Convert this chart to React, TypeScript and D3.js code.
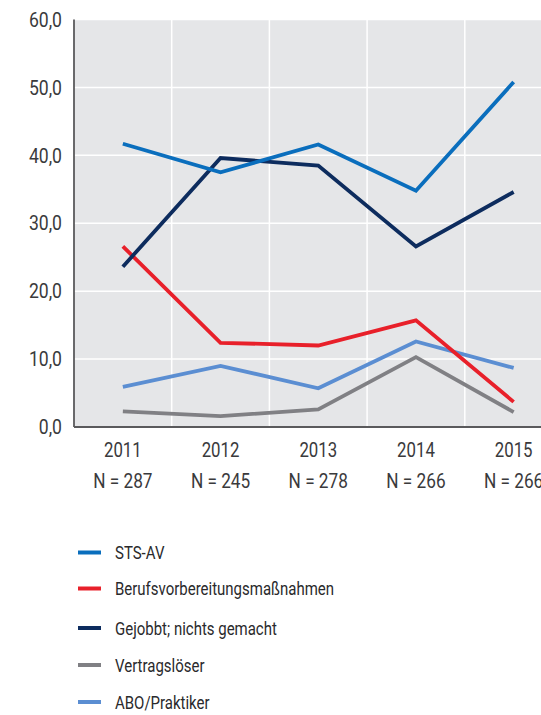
import React from "react";
import * as d3 from "d3";

const years = ["2011", "2012", "2013", "2014", "2015"];
const nLabels = ["N = 287", "N = 245", "N = 278", "N = 266", "N = 266"];
const yTicks = [0, 10, 20, 30, 40, 50, 60];

const stsAv = [41.7, 37.5, 41.6, 34.8, 50.8];
const berufsvorb = [26.6, 12.4, 12.0, 15.7, 3.7];
const gejobbt = [23.6, 39.6, 38.5, 26.6, 34.6];
const vertragsloeser = [2.3, 1.6, 2.6, 10.3, 2.2];
const aboPraktiker = [5.9, 9.0, 5.7, 12.6, 8.7];

const seriesNames = ["STS-AV", "Berufsvorbereitungsmaßnahmen", "Gejobbt; nichts gemacht", "Vertragslöser", "ABO/Praktiker"];
const seriesValues = [stsAv, berufsvorb, gejobbt, vertragsloeser, aboPraktiker];
const seriesColors = ["#0a6ebd", "#e8202a", "#0d2c5e", "#808084", "#5b8ed2"];
// drawing order (back to front)
const drawOrder = [3, 4, 1, 2, 0];

function CText(props: { x: number; y: number; sx: number; anchor?: string; size: number; fill: string; dy?: string; children: React.ReactNode }) {
  return (
    <text
      transform={`translate(${props.x},${props.y}) scale(${props.sx},1)`}
      dy={props.dy}
      textAnchor={props.anchor || "start"}
      fontSize={props.size}
      fill={props.fill}
    >
      {props.children}
    </text>
  );
}

export default function App() {
  const W = 541, H = 715;
  const left = 74, top = 19.5, bottom = 427;
  const step = 97.7;
  const x = d3.scaleBand<string>().domain(years).range([left, left + step * years.length]).padding(0);
  const y = d3.scaleLinear().domain([0, 60]).range([bottom, top]);
  const cx = (i: number) => (x(years[i]) as number) + x.bandwidth() / 2;
  const line = d3.line<number>().x((_, i) => cx(i)).y((d) => y(d));
  const font = "Roboto, 'Liberation Sans', sans-serif";
  const plotRight = W;

  return (
    <svg width={W} height={H} style={{ position: "absolute", left: 0, top: 0 }} fontFamily={font}>
      <rect x={0} y={0} width={W} height={H} fill="#ffffff" />
      <rect x={left} y={top} width={plotRight - left} height={bottom - top} fill="#e5e6e8" />
      {yTicks.filter((t) => t > 0).map((t) => (
        <line key={"gy" + t} x1={left} x2={plotRight} y1={y(t)} y2={y(t)} stroke="#ffffff" strokeWidth={1.5} />
      ))}
      {years.slice(1).map((yr) => (
        <line key={"gx" + yr} x1={x(yr) as number} x2={x(yr) as number} y1={top} y2={bottom} stroke="#ffffff" strokeWidth={1.5} />
      ))}
      <line x1={left} x2={left} y1={top} y2={bottom} stroke="#5a5a5c" strokeWidth={1.8} />
      <line x1={left} x2={plotRight} y1={bottom} y2={bottom} stroke="#5a5a5c" strokeWidth={1.8} />
      {drawOrder.map((si) => (
        <path key={"s" + si} d={line(seriesValues[si]) || ""} fill="none" stroke={seriesColors[si]} strokeWidth={3.8} strokeLinejoin="miter" />
      ))}
      {yTicks.map((t) => (
        <CText key={"yt" + t} x={62} y={y(t)} dy="0.36em" anchor="end" size={20} sx={0.88} fill="#3a3a3c">
          {d3.format(".1f")(t).replace(".", ",")}
        </CText>
      ))}
      {years.map((yr, i) => (
        <g key={"xt" + yr}>
          <CText x={cx(i)} y={457} anchor="middle" size={21} sx={0.8} fill="#3a3a3c">{yr}</CText>
          <CText x={cx(i)} y={488} anchor="middle" size={21} sx={0.82} fill="#3a3a3c">{nLabels[i]}</CText>
        </g>
      ))}
      {seriesNames.map((name, i) => {
        const cy = [552.5, 588.5, 628, 665, 702][i];
        return (
          <g key={"lg" + i}>
            <line x1={78} x2={101} y1={cy} y2={cy} stroke={seriesColors[i]} strokeWidth={4} />
            <CText x={115} y={cy} dy="0.36em" size={18.5} sx={0.81} fill="#2a2a2c">{name}</CText>
          </g>
        );
      })}
    </svg>
  );
}
